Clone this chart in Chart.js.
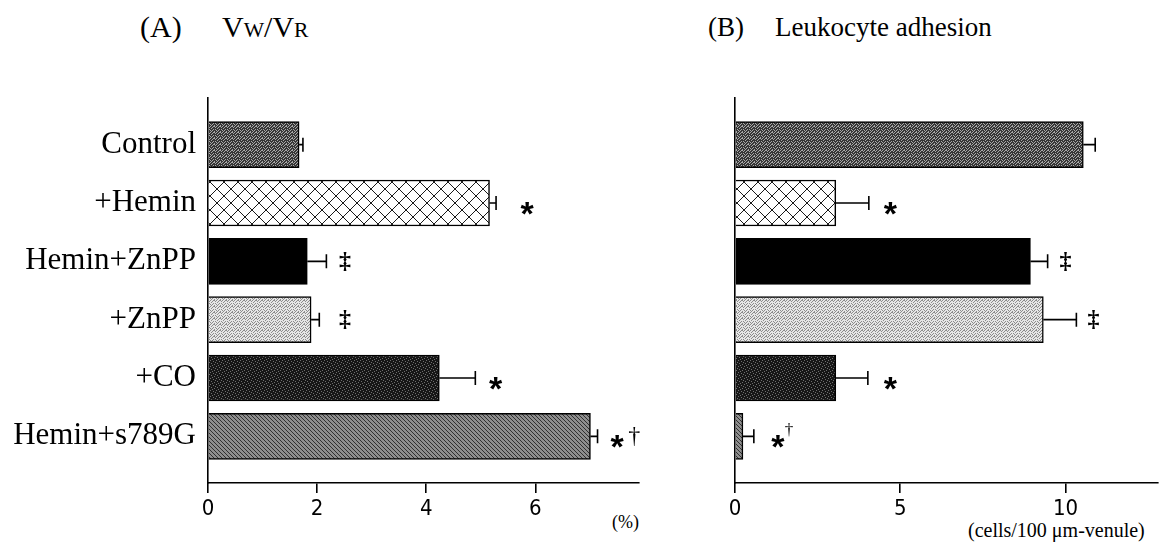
<!DOCTYPE html>
<html>
<head>
<meta charset="utf-8">
<script src="https://cdn.jsdelivr.net/npm/chart.js@4"></script>
<style>
  body { margin: 0; background: #fff; width: 1160px; height: 549px; position: relative; overflow: hidden; }
  .box { position: absolute; top: 0; }
  .txt { position: absolute; font-family: "Liberation Serif", "Times New Roman", serif; color: #000; white-space: nowrap; }
  .sc { font-size: 0.72em; }
</style>
</head>
<body>
  <div class="txt" style="left:140px; top:10px; font-size:30px;">(A)</div>
  <div class="txt" style="left:222px; top:10px; font-size:30px;">V<span class="sc">W</span>/V<span class="sc">R</span></div>
  <div class="txt" style="left:708px; top:12px; font-size:27px;">(B)</div>
  <div class="txt" style="left:775px; top:12px; font-size:27px;">Leukocyte adhesion</div>
  <div class="txt" style="left:612px; top:512px; font-size:18px;">(%)</div>
  <div class="txt" style="left:968px; top:519px; font-size:20px;">(cells/100 μm-venule)</div>

  <div class="box" style="left:0; width:660px; height:549px;"><canvas id="chartA" width="660" height="549"></canvas></div>
  <div class="box" style="left:660px; width:500px; height:549px;"><canvas id="chartB" width="500" height="549"></canvas></div>

<script>
  // groups, top to bottom
  const groups = ['Control', '+Hemin', 'Hemin+ZnPP', '+ZnPP', '+CO', 'Hemin+s789G'];

  // (A) Vw/Vr, %
  const vwvr = [1.67, 5.16, 1.82, 1.89, 4.24, 7.01];
  const vwvrErr = [0.07, 0.12, 0.35, 0.15, 0.66, 0.13];
  const vwvrMarks = ['', '*', '‡', '‡', '*', '*†'];
  const vwvrMarkAt = [null, 5.85, 2.51, 2.51, 5.27, 7.5];

  // (B) leukocyte adhesion, cells/100 um venule
  const adhesion = [10.54, 3.05, 8.94, 9.33, 3.05, 0.24];
  const adhesionErr = [0.36, 1.0, 0.52, 1.0, 0.97, 0.33];
  const adhesionMarks = ['', '*', '‡', '‡', '*', '*†'];
  const adhesionMarkAt = [null, 4.7, 10.0, 10.85, 4.7, 1.3];

  const ticksA = [0, 2, 4, 6];
  const ticksB = [0, 5, 10];

  // fill patterns like the printed figure
  function tile(size, bg, fg, pts) {
    const c = document.createElement('canvas');
    c.width = c.height = size;
    const g = c.getContext('2d');
    g.fillStyle = bg;
    g.fillRect(0, 0, size, size);
    g.fillStyle = fg;
    pts.forEach(p => g.fillRect(p[0], p[1], 1, 1));
    return g.createPattern(c, 'repeat');
  }
  function cross() {
    const n = 14, pts = [];
    for (let i = 0; i < n; i++) { pts.push([i, i]); pts.push([i, n - 1 - i]); }
    return tile(n, '#ffffff', '#1a1a1a', pts);
  }
  const speckle = [[0, 0], [4, 0], [2, 1], [5, 1], [1, 2], [3, 3], [5, 3], [0, 4], [2, 4], [4, 5], [1, 5], [3, 0]];
  const sparse = [[0, 0], [3, 1], [1, 3], [4, 4], [2, 5], [5, 2]];
  const fills = [
    tile(6, '#363636', '#a8a8a8', speckle),
    cross(),
    '#000000',
    tile(6, '#e6e6e6', '#8c8c8c', speckle),
    tile(6, '#161616', '#6e6e6e', sparse),
    tile(4, '#8e8e8e', '#303030', [[0, 0], [1, 1], [2, 2], [3, 3]])
  ];

  // draw text so its ink is centred on (x, y)
  function centredText(ctx, s, x, y) {
    const m = ctx.measureText(s);
    ctx.fillText(s, x, y + (m.actualBoundingBoxAscent - m.actualBoundingBoxDescent) / 2);
  }

  const errorBars = {
    id: 'errorBars',
    afterDatasetsDraw(chart, args, opts) {
      const { ctx, scales: { x, y } } = chart;
      const vals = opts.values, errs = opts.errors;
      ctx.save();
      ctx.strokeStyle = '#000';
      ctx.lineWidth = 1.6;
      vals.forEach((v, i) => {
        const py = y.getPixelForValue(i);
        const x0 = x.getPixelForValue(v);
        const x1 = x.getPixelForValue(v + errs[i]);
        ctx.beginPath();
        ctx.moveTo(x0, py); ctx.lineTo(x1, py);
        ctx.moveTo(x1, py - 7); ctx.lineTo(x1, py + 7);
        ctx.stroke();
      });
      // significance marks
      ctx.fillStyle = '#000';
      ctx.textAlign = 'center';
      ctx.textBaseline = 'alphabetic';
      opts.marks.forEach((m, i) => {
        if (!m) return;
        const py = y.getPixelForValue(i);
        let px = x.getPixelForValue(opts.markAt[i]);
        for (const ch of m) {
          if (ch === '*') {
            ctx.font = 'bold 34px "Liberation Sans", sans-serif';
            centredText(ctx, '*', px, py + 5);
            px += opts.daggerGap;
          } else if (ch === '†') {
            ctx.font = opts.daggerFont;
            centredText(ctx, '†', px, py + opts.daggerDy);
          } else {
            ctx.font = 'bold 24px "Liberation Serif", serif';
            centredText(ctx, ch, px, py);
          }
        }
      });
      ctx.restore();
    }
  };

  function makeChart(id, values, errs, marks, markAt, xMax, xTicks, yWidth, padRight, showLabels, dagger) {
    const ctx = document.getElementById(id).getContext('2d');
    return new Chart(ctx, {
      type: 'bar',
      data: {
        datasets: [{
          data: values.map((v, i) => ({ x: v, y: i })),
          backgroundColor: fills,
          borderColor: '#000',
          borderWidth: 1.5,
          barThickness: 46
        }]
      },
      options: {
        responsive: false,
        animation: false,
        indexAxis: 'y',
        layout: { padding: { top: 98, right: padRight, left: 0, bottom: 0 } },
        plugins: {
          legend: { display: false },
          tooltip: { enabled: false },
          errorBars: {
            values: values, errors: errs, marks: marks, markAt: markAt,
            daggerGap: dagger.gap, daggerFont: dagger.font, daggerDy: dagger.dy
          }
        },
        scales: {
          x: {
            type: 'linear',
            min: 0,
            max: xMax,
            afterFit: s => { s.height = 66; },
            afterBuildTicks: s => { s.ticks = xTicks.map(v => ({ value: v })); },
            border: { display: true, color: '#000', width: 1.6 },
            grid: { display: true, drawOnChartArea: false, drawTicks: true, tickLength: 10, color: '#000', lineWidth: 1.6 },
            ticks: {
              color: '#000',
              padding: 3,
              maxRotation: 0,
              font: { family: '"Liberation Sans Narrow", "DejaVu Sans Condensed", sans-serif', size: 22 }
            }
          },
          y: {
            type: 'linear',
            reverse: true,
            offset: false,
            min: -0.8,
            max: 5.8,
            afterFit: s => { s.width = yWidth; },
            afterBuildTicks: s => { s.ticks = groups.map((g, i) => ({ value: i })); },
            border: { display: true, color: '#000', width: 1.6 },
            grid: { display: false, offset: false },
            ticks: {
              display: showLabels,
              color: '#000',
              padding: 4,
              callback: v => groups[v],
              font: { family: '"Liberation Serif", "Times New Roman", serif', size: 31 }
            }
          }
        }
      },
      plugins: [errorBars]
    });
  }

  makeChart('chartA', vwvr, vwvrErr, vwvrMarks, vwvrMarkAt, 7.9, ticksA, 208, 21, true,
    { gap: 17, font: '24px "Liberation Serif", serif', dy: 0 });
  makeChart('chartB', adhesion, adhesionErr, adhesionMarks, adhesionMarkAt, 12.8, ticksB, 75, 2, false,
    { gap: 11, font: '17px "Liberation Serif", serif', dy: -6 });
</script>
</body>
</html>
